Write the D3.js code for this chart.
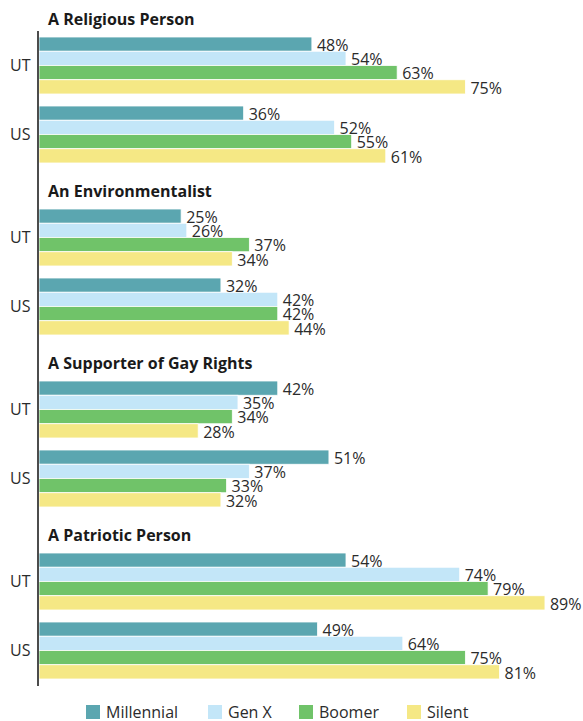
<html>
<head>
<script src="https://d3js.org/d3.v7.min.js"></script>
<style>
    body { margin: 0; background: #fff; }
    text { font-family: "Open Sans", sans-serif; fill: #2b2b2b; font-size: 16px; }
    .title { font-weight: bold; fill: #1a1a1a; }
</style>
</head>
<body>
<div id="chart"></div>
<script>
    // data
    var sections = ['A Religious Person', 'An Environmentalist', 'A Supporter of Gay Rights', 'A Patriotic Person'];
    var places = ['UT', 'US'];
    var generations = ['Millennial', 'Gen X', 'Boomer', 'Silent'];
    var colors = ['#5ba6b0', '#c3e6f8', '#70c369', '#f5e885'];

    // one row per section, values per place in generation order
    var utValues = [
        [48, 54, 63, 75],
        [25, 26, 37, 34],
        [42, 35, 34, 28],
        [54, 74, 79, 89]
    ];
    var usValues = [
        [36, 52, 55, 61],
        [32, 42, 42, 44],
        [51, 37, 33, 32],
        [49, 64, 75, 81]
    ];

    var width = 583, height = 721;

    var svg = d3.select('#chart').append('svg')
        .attr('width', width)
        .attr('height', height);

    var x = d3.scaleLinear().domain([0, 100]).range([39, 607.5]);

    // section bands, then UT / US groups, then one bar per generation
    var ySection = d3.scaleBand().domain(sections).range([37, 37 + 4 * 172]);
    var yPlace = d3.scaleBand().domain(places).range([0, 126]).paddingInner(12 / 69);
    var yGen = d3.scaleBand().domain(generations).range([0, yPlace.bandwidth()]);

    var color = d3.scaleOrdinal().domain(generations).range(colors);

    sections.forEach(function(sec, si) {
        var g = svg.append('g')
            .attr('transform', 'translate(0,' + ySection(sec) + ')');

        g.append('text')
            .attr('class', 'title')
            .attr('x', 48)
            .attr('y', -12)
            .text(sec);

        places.forEach(function(pl) {
            var vals = pl === 'UT' ? utValues[si] : usValues[si];
            var rows = generations.map(function(gen, i) { return {gen: gen, value: vals[i]}; });

            var pg = g.append('g')
                .attr('transform', 'translate(0,' + yPlace(pl) + ')');

            pg.append('text')
                .attr('x', 10)
                .attr('y', yPlace.bandwidth() / 2)
                .attr('dy', '0.36em')
                .text(pl);

            pg.selectAll('rect')
                .data(rows)
                .enter()
                .append('rect')
                .attr('x', x(0))
                .attr('y', function(d) { return yGen(d.gen); })
                .attr('width', function(d) { return x(d.value) - x(0); })
                .attr('height', yGen.bandwidth())
                .attr('fill', function(d) { return color(d.gen); })
                .attr('stroke', '#fff')
                .attr('stroke-width', 0.8);

            pg.selectAll('.val')
                .data(rows)
                .enter()
                .append('text')
                .attr('class', 'val')
                .attr('x', function(d) { return x(d.value) + 5; })
                .attr('y', function(d) { return yGen(d.gen) + yGen.bandwidth() - 0.5; })
                .text(function(d) { return d.value + '%'; });
        });
    });

    // vertical axis line
    svg.append('line')
        .attr('x1', 38).attr('x2', 38)
        .attr('y1', 31).attr('y2', 686)
        .attr('stroke', '#111')
        .attr('stroke-width', 1.5);

    // legend
    var legendX = [86, 208, 299, 407];
    var legend = svg.selectAll('.legend')
        .data(generations)
        .enter()
        .append('g')
        .attr('class', 'legend')
        .attr('transform', function(d, i) { return 'translate(' + legendX[i] + ',705)'; });

    legend.append('rect')
        .attr('width', 14)
        .attr('height', 14)
        .attr('fill', color);

    legend.append('text')
        .attr('x', 20)
        .attr('y', 7)
        .attr('dy', '0.36em')
        .text(function(d) { return d; });
</script>
</body>
</html>
